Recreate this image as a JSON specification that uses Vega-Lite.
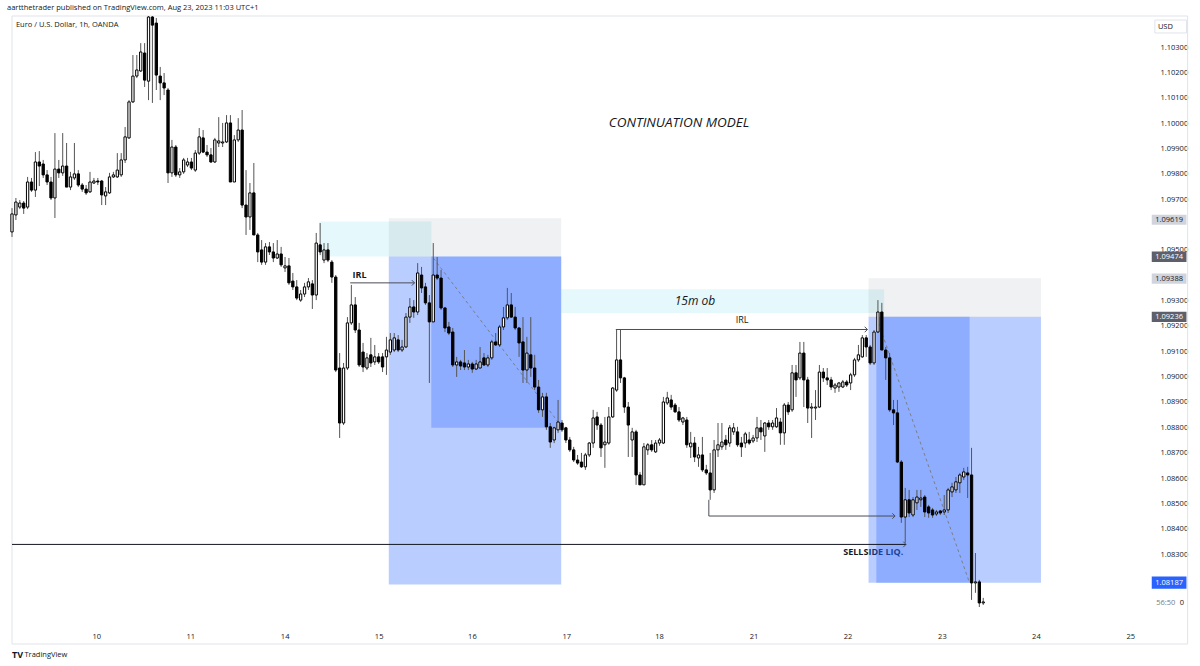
{
"$schema":"https://vega.github.io/schema/vega-lite/v6.json",
"width":1143,"height":609,
"autosize":{"type":"none"},
"padding":{"left":7,"top":16,"right":50,"bottom":41},
"background":"#ffffff",
"config":{"view":{"stroke":null},"font":"Open Sans"},
"resolve":{"scale":{"color":"independent"},"axis":{"x":"independent","y":"independent"}},
"title":{"text":"aartthetrader published on TradingView.com, Aug 23, 2023 11:03 UTC+1","anchor":"start","frame":"group","fontSize":7.5,"font":"Open Sans","fontWeight":"normal","color":"#131722","offset":4},
"datasets":{
"candles":[
{"t":0,"o":1.09571,"h":1.09665,"l":1.09551,"c":1.09642},
{"t":1,"o":1.09638,"h":1.09705,"l":1.09618,"c":1.09689},
{"t":2,"o":1.09669,"h":1.09697,"l":1.09661,"c":1.09685},
{"t":3,"o":1.09685,"h":1.09693,"l":1.09642,"c":1.09665},
{"t":4,"o":1.09669,"h":1.09788,"l":1.09661,"c":1.09768},
{"t":5,"o":1.09768,"h":1.09784,"l":1.09729,"c":1.09736},
{"t":6,"o":1.09736,"h":1.09886,"l":1.09709,"c":1.09847},
{"t":7,"o":1.09847,"h":1.0989,"l":1.09752,"c":1.09831},
{"t":8,"o":1.09839,"h":1.09855,"l":1.09784,"c":1.09796},
{"t":9,"o":1.09796,"h":1.09815,"l":1.09756,"c":1.09768},
{"t":10,"o":1.09768,"h":1.09788,"l":1.09697,"c":1.09705},
{"t":11,"o":1.09705,"h":1.09961,"l":1.09626,"c":1.09819},
{"t":12,"o":1.09819,"h":1.09855,"l":1.09784,"c":1.09804},
{"t":13,"o":1.09804,"h":1.09961,"l":1.09792,"c":1.09831},
{"t":14,"o":1.09831,"h":1.09922,"l":1.09748,"c":1.09748},
{"t":15,"o":1.09748,"h":1.09808,"l":1.09736,"c":1.09788},
{"t":16,"o":1.09784,"h":1.09922,"l":1.09776,"c":1.098},
{"t":17,"o":1.098,"h":1.09815,"l":1.09748,"c":1.09756},
{"t":18,"o":1.09756,"h":1.09764,"l":1.09729,"c":1.0974},
{"t":19,"o":1.0974,"h":1.09756,"l":1.09717,"c":1.09725},
{"t":20,"o":1.09729,"h":1.09808,"l":1.09725,"c":1.09768},
{"t":21,"o":1.09764,"h":1.09784,"l":1.0976,"c":1.09772},
{"t":22,"o":1.09772,"h":1.09784,"l":1.09756,"c":1.09768},
{"t":23,"o":1.09772,"h":1.09776,"l":1.09677,"c":1.09717},
{"t":24,"o":1.09713,"h":1.09748,"l":1.09677,"c":1.09729},
{"t":25,"o":1.09725,"h":1.09804,"l":1.09721,"c":1.09788},
{"t":26,"o":1.09788,"h":1.09808,"l":1.09784,"c":1.09796},
{"t":27,"o":1.09788,"h":1.09882,"l":1.09784,"c":1.09815},
{"t":28,"o":1.09796,"h":1.09882,"l":1.09788,"c":1.09855},
{"t":29,"o":1.09855,"h":1.09985,"l":1.09843,"c":1.09946},
{"t":30,"o":1.09942,"h":1.10091,"l":1.09938,"c":1.10084},
{"t":31,"o":1.10084,"h":1.10269,"l":1.1008,"c":1.10186},
{"t":32,"o":1.10186,"h":1.10269,"l":1.10178,"c":1.1021},
{"t":33,"o":1.10206,"h":1.10316,"l":1.10202,"c":1.10281},
{"t":34,"o":1.10277,"h":1.10316,"l":1.10143,"c":1.1017},
{"t":35,"o":1.10166,"h":1.10427,"l":1.10091,"c":1.10419},
{"t":36,"o":1.10419,"h":1.10427,"l":1.1008,"c":1.10387},
{"t":37,"o":1.10395,"h":1.10415,"l":1.10131,"c":1.1019},
{"t":38,"o":1.10186,"h":1.10222,"l":1.10091,"c":1.10159},
{"t":39,"o":1.10159,"h":1.10198,"l":1.10111,"c":1.10139},
{"t":40,"o":1.10131,"h":1.10139,"l":1.09764,"c":1.09804},
{"t":41,"o":1.09804,"h":1.09934,"l":1.09788,"c":1.09906},
{"t":42,"o":1.09906,"h":1.09914,"l":1.09788,"c":1.09796},
{"t":43,"o":1.09796,"h":1.09823,"l":1.09784,"c":1.09808},
{"t":44,"o":1.09808,"h":1.09863,"l":1.098,"c":1.09855},
{"t":45,"o":1.09835,"h":1.09863,"l":1.09827,"c":1.09847},
{"t":46,"o":1.09847,"h":1.09863,"l":1.09815,"c":1.09823},
{"t":47,"o":1.09815,"h":1.09894,"l":1.09808,"c":1.09882},
{"t":48,"o":1.09882,"h":1.09981,"l":1.09875,"c":1.09946},
{"t":49,"o":1.09942,"h":1.09973,"l":1.09882,"c":1.09886},
{"t":50,"o":1.09886,"h":1.09914,"l":1.09867,"c":1.09875},
{"t":51,"o":1.09875,"h":1.09902,"l":1.09843,"c":1.09847},
{"t":52,"o":1.09847,"h":1.09942,"l":1.09843,"c":1.09934},
{"t":53,"o":1.09922,"h":1.10024,"l":1.09906,"c":1.0993},
{"t":54,"o":1.09922,"h":1.10001,"l":1.09906,"c":1.09926},
{"t":55,"o":1.09926,"h":1.10032,"l":1.09922,"c":1.10001},
{"t":56,"o":1.10001,"h":1.10032,"l":1.09768,"c":1.09768},
{"t":57,"o":1.09768,"h":1.09953,"l":1.09768,"c":1.09934},
{"t":58,"o":1.09934,"h":1.1002,"l":1.09926,"c":1.09973},
{"t":59,"o":1.09973,"h":1.10052,"l":1.09665,"c":1.09677},
{"t":60,"o":1.09677,"h":1.09815,"l":1.09559,"c":1.0963},
{"t":61,"o":1.0963,"h":1.09764,"l":1.09579,"c":1.09725},
{"t":62,"o":1.09725,"h":1.09843,"l":1.09559,"c":1.09559},
{"t":63,"o":1.09559,"h":1.09567,"l":1.09452,"c":1.09492},
{"t":64,"o":1.095,"h":1.09539,"l":1.09441,"c":1.09452},
{"t":65,"o":1.09452,"h":1.09527,"l":1.09441,"c":1.09512},
{"t":66,"o":1.09512,"h":1.09531,"l":1.0948,"c":1.09492},
{"t":67,"o":1.09492,"h":1.09527,"l":1.09452,"c":1.09468},
{"t":68,"o":1.09468,"h":1.09539,"l":1.09464,"c":1.09484},
{"t":69,"o":1.09484,"h":1.09512,"l":1.09433,"c":1.09441},
{"t":70,"o":1.09429,"h":1.09472,"l":1.09413,"c":1.09437},
{"t":71,"o":1.09437,"h":1.09468,"l":1.09362,"c":1.0937},
{"t":72,"o":1.09377,"h":1.09409,"l":1.09342,"c":1.09354},
{"t":73,"o":1.09354,"h":1.09381,"l":1.09302,"c":1.0931},
{"t":74,"o":1.09302,"h":1.09342,"l":1.09295,"c":1.09326},
{"t":75,"o":1.09326,"h":1.0937,"l":1.09314,"c":1.09354},
{"t":76,"o":1.09354,"h":1.09389,"l":1.09342,"c":1.09374},
{"t":77,"o":1.09366,"h":1.09381,"l":1.09267,"c":1.09322},
{"t":78,"o":1.09322,"h":1.09567,"l":1.09302,"c":1.09527},
{"t":79,"o":1.0952,"h":1.09606,"l":1.0948,"c":1.09492},
{"t":80,"o":1.0946,"h":1.09527,"l":1.09448,"c":1.095},
{"t":81,"o":1.095,"h":1.09527,"l":1.09452,"c":1.0946},
{"t":82,"o":1.09452,"h":1.0946,"l":1.0937,"c":1.09393},
{"t":83,"o":1.09393,"h":1.09401,"l":1.09018,"c":1.09026},
{"t":84,"o":1.09034,"h":1.09093,"l":1.08758,"c":1.08817},
{"t":85,"o":1.08817,"h":1.09054,"l":1.08809,"c":1.09034},
{"t":86,"o":1.09034,"h":1.09235,"l":1.09026,"c":1.09212},
{"t":87,"o":1.09212,"h":1.09362,"l":1.09204,"c":1.09283},
{"t":88,"o":1.09283,"h":1.09314,"l":1.09172,"c":1.09184},
{"t":89,"o":1.09184,"h":1.09212,"l":1.09038,"c":1.09046},
{"t":90,"o":1.09097,"h":1.09133,"l":1.09018,"c":1.09038},
{"t":91,"o":1.09034,"h":1.09093,"l":1.09026,"c":1.09074},
{"t":92,"o":1.09086,"h":1.09153,"l":1.09038,"c":1.09054},
{"t":93,"o":1.09058,"h":1.09125,"l":1.09046,"c":1.09078},
{"t":94,"o":1.09078,"h":1.09093,"l":1.0905,"c":1.09058},
{"t":95,"o":1.09078,"h":1.09093,"l":1.09018,"c":1.09038},
{"t":96,"o":1.09078,"h":1.09157,"l":1.09007,"c":1.09105},
{"t":97,"o":1.09097,"h":1.09172,"l":1.09086,"c":1.09145},
{"t":98,"o":1.09105,"h":1.09172,"l":1.09097,"c":1.09153},
{"t":99,"o":1.09145,"h":1.09164,"l":1.09097,"c":1.09105},
{"t":100,"o":1.09105,"h":1.09145,"l":1.09097,"c":1.09117},
{"t":101,"o":1.09117,"h":1.09251,"l":1.09113,"c":1.09235},
{"t":102,"o":1.09235,"h":1.0931,"l":1.09212,"c":1.09275},
{"t":103,"o":1.09275,"h":1.09302,"l":1.09232,"c":1.09255},
{"t":104,"o":1.09255,"h":1.09448,"l":1.09243,"c":1.09409},
{"t":105,"o":1.09401,"h":1.09433,"l":1.0933,"c":1.0935},
{"t":106,"o":1.09354,"h":1.0937,"l":1.09283,"c":1.09291},
{"t":107,"o":1.09291,"h":1.09322,"l":1.08975,"c":1.09216},
{"t":108,"o":1.09216,"h":1.09527,"l":1.09216,"c":1.09401},
{"t":109,"o":1.09401,"h":1.09472,"l":1.09381,"c":1.09389},
{"t":110,"o":1.09389,"h":1.09421,"l":1.09263,"c":1.09271},
{"t":111,"o":1.09271,"h":1.09275,"l":1.09176,"c":1.09192},
{"t":112,"o":1.09196,"h":1.09216,"l":1.09164,"c":1.09172},
{"t":113,"o":1.09176,"h":1.09192,"l":1.09038,"c":1.09046},
{"t":114,"o":1.09046,"h":1.09078,"l":1.08999,"c":1.09058},
{"t":115,"o":1.09058,"h":1.09066,"l":1.09026,"c":1.09042},
{"t":116,"o":1.09054,"h":1.09105,"l":1.09026,"c":1.09038},
{"t":117,"o":1.09038,"h":1.09066,"l":1.09026,"c":1.0905},
{"t":118,"o":1.0905,"h":1.09058,"l":1.09015,"c":1.0903},
{"t":119,"o":1.0903,"h":1.09066,"l":1.09026,"c":1.0905},
{"t":120,"o":1.09034,"h":1.09117,"l":1.09034,"c":1.09058},
{"t":121,"o":1.09074,"h":1.09093,"l":1.09042,"c":1.09046},
{"t":122,"o":1.09046,"h":1.09086,"l":1.09038,"c":1.09074},
{"t":123,"o":1.09074,"h":1.09145,"l":1.09066,"c":1.09137},
{"t":124,"o":1.09137,"h":1.09172,"l":1.09121,"c":1.09125},
{"t":125,"o":1.09125,"h":1.09204,"l":1.09117,"c":1.09196},
{"t":126,"o":1.09196,"h":1.09275,"l":1.09184,"c":1.09232},
{"t":127,"o":1.09232,"h":1.0935,"l":1.09224,"c":1.09283},
{"t":128,"o":1.09283,"h":1.0933,"l":1.09232,"c":1.09235},
{"t":129,"o":1.09235,"h":1.09275,"l":1.09184,"c":1.09192},
{"t":130,"o":1.09192,"h":1.09196,"l":1.09078,"c":1.09133},
{"t":131,"o":1.09137,"h":1.09235,"l":1.08975,"c":1.09026},
{"t":132,"o":1.09026,"h":1.09157,"l":1.08975,"c":1.09093},
{"t":133,"o":1.09086,"h":1.09235,"l":1.08999,"c":1.09034},
{"t":134,"o":1.09034,"h":1.09086,"l":1.08947,"c":1.08959},
{"t":135,"o":1.08959,"h":1.08987,"l":1.08857,"c":1.08869},
{"t":136,"o":1.08869,"h":1.08936,"l":1.08841,"c":1.0892},
{"t":137,"o":1.0892,"h":1.08936,"l":1.0879,"c":1.08802},
{"t":138,"o":1.08802,"h":1.08817,"l":1.08719,"c":1.08742},
{"t":139,"o":1.0875,"h":1.08802,"l":1.08738,"c":1.08798},
{"t":140,"o":1.0879,"h":1.08908,"l":1.08778,"c":1.08821},
{"t":141,"o":1.08817,"h":1.08829,"l":1.08782,"c":1.0879},
{"t":142,"o":1.08798,"h":1.08802,"l":1.08738,"c":1.0875},
{"t":143,"o":1.0875,"h":1.08762,"l":1.08703,"c":1.08711},
{"t":144,"o":1.08711,"h":1.08723,"l":1.08663,"c":1.08671},
{"t":145,"o":1.08671,"h":1.08691,"l":1.08652,"c":1.08659},
{"t":146,"o":1.08663,"h":1.08699,"l":1.0864,"c":1.08644},
{"t":147,"o":1.08644,"h":1.08699,"l":1.08632,"c":1.08691},
{"t":148,"o":1.08691,"h":1.08742,"l":1.08683,"c":1.08738},
{"t":149,"o":1.08738,"h":1.08869,"l":1.08719,"c":1.08837},
{"t":150,"o":1.08841,"h":1.08861,"l":1.0879,"c":1.08809},
{"t":151,"o":1.08809,"h":1.08817,"l":1.08683,"c":1.08719},
{"t":152,"o":1.08731,"h":1.08841,"l":1.0864,"c":1.08742},
{"t":153,"o":1.08738,"h":1.0888,"l":1.08731,"c":1.08841},
{"t":154,"o":1.08841,"h":1.08959,"l":1.08837,"c":1.08955},
{"t":155,"o":1.08947,"h":1.09184,"l":1.0894,"c":1.09066},
{"t":156,"o":1.09066,"h":1.09184,"l":1.08975,"c":1.08995},
{"t":157,"o":1.08995,"h":1.08999,"l":1.08857,"c":1.0888},
{"t":158,"o":1.0888,"h":1.089,"l":1.08683,"c":1.08809},
{"t":159,"o":1.0875,"h":1.08798,"l":1.08683,"c":1.08782},
{"t":160,"o":1.08782,"h":1.0879,"l":1.08573,"c":1.08612},
{"t":161,"o":1.08612,"h":1.08624,"l":1.08573,"c":1.08573},
{"t":162,"o":1.08573,"h":1.08738,"l":1.08573,"c":1.08723},
{"t":163,"o":1.08711,"h":1.08738,"l":1.08691,"c":1.08731},
{"t":164,"o":1.08731,"h":1.0875,"l":1.08703,"c":1.08711},
{"t":165,"o":1.08703,"h":1.0875,"l":1.08699,"c":1.08738},
{"t":166,"o":1.08738,"h":1.08758,"l":1.08727,"c":1.0875},
{"t":167,"o":1.08738,"h":1.0892,"l":1.08734,"c":1.089},
{"t":168,"o":1.08896,"h":1.0894,"l":1.08888,"c":1.08916},
{"t":169,"o":1.08908,"h":1.08928,"l":1.08869,"c":1.0888},
{"t":170,"o":1.08888,"h":1.08896,"l":1.08857,"c":1.08861},
{"t":171,"o":1.08861,"h":1.0888,"l":1.08821,"c":1.08829},
{"t":172,"o":1.08821,"h":1.08841,"l":1.08809,"c":1.08837},
{"t":173,"o":1.08829,"h":1.08841,"l":1.08719,"c":1.08731},
{"t":174,"o":1.08723,"h":1.08782,"l":1.08679,"c":1.08738},
{"t":175,"o":1.08738,"h":1.08762,"l":1.08663,"c":1.08683},
{"t":176,"o":1.08679,"h":1.08723,"l":1.08644,"c":1.08691},
{"t":177,"o":1.08691,"h":1.08762,"l":1.08624,"c":1.08632},
{"t":178,"o":1.08632,"h":1.08652,"l":1.08612,"c":1.0862},
{"t":179,"o":1.0862,"h":1.08699,"l":1.08514,"c":1.08553},
{"t":180,"o":1.08553,"h":1.0875,"l":1.08541,"c":1.08711},
{"t":181,"o":1.08711,"h":1.08817,"l":1.08683,"c":1.08731},
{"t":182,"o":1.08723,"h":1.08817,"l":1.08711,"c":1.08742},
{"t":183,"o":1.0875,"h":1.0877,"l":1.08711,"c":1.08731},
{"t":184,"o":1.08738,"h":1.08809,"l":1.08723,"c":1.08798},
{"t":185,"o":1.08782,"h":1.08817,"l":1.0877,"c":1.08798},
{"t":186,"o":1.08782,"h":1.08802,"l":1.08723,"c":1.08731},
{"t":187,"o":1.08738,"h":1.08762,"l":1.08683,"c":1.08723},
{"t":188,"o":1.08738,"h":1.08782,"l":1.08719,"c":1.08774},
{"t":189,"o":1.0875,"h":1.08782,"l":1.08731,"c":1.08738},
{"t":190,"o":1.08746,"h":1.0877,"l":1.08738,"c":1.08758},
{"t":191,"o":1.08758,"h":1.08841,"l":1.08742,"c":1.08798},
{"t":192,"o":1.08798,"h":1.08829,"l":1.0875,"c":1.08782},
{"t":193,"o":1.08766,"h":1.08821,"l":1.08703,"c":1.08817},
{"t":194,"o":1.08817,"h":1.08829,"l":1.0879,"c":1.08802},
{"t":195,"o":1.08802,"h":1.08829,"l":1.0879,"c":1.08817},
{"t":196,"o":1.08802,"h":1.08876,"l":1.08798,"c":1.08837},
{"t":197,"o":1.08821,"h":1.08837,"l":1.08731,"c":1.08778},
{"t":198,"o":1.08778,"h":1.08896,"l":1.08731,"c":1.08888},
{"t":199,"o":1.08888,"h":1.089,"l":1.08849,"c":1.08861},
{"t":200,"o":1.08869,"h":1.09046,"l":1.08861,"c":1.09015},
{"t":201,"o":1.09015,"h":1.09046,"l":1.0892,"c":1.08987},
{"t":202,"o":1.08995,"h":1.09137,"l":1.08987,"c":1.09093},
{"t":203,"o":1.09093,"h":1.09137,"l":1.0888,"c":1.08987},
{"t":204,"o":1.08987,"h":1.08999,"l":1.08817,"c":1.08876},
{"t":205,"o":1.08876,"h":1.08896,"l":1.08758,"c":1.0888},
{"t":206,"o":1.08876,"h":1.08947,"l":1.08829,"c":1.0888},
{"t":207,"o":1.0888,"h":1.09046,"l":1.08876,"c":1.09018},
{"t":208,"o":1.09018,"h":1.09034,"l":1.08979,"c":1.08995},
{"t":209,"o":1.08995,"h":1.09034,"l":1.08967,"c":1.08987},
{"t":210,"o":1.08987,"h":1.08999,"l":1.08947,"c":1.08959},
{"t":211,"o":1.08955,"h":1.08975,"l":1.08936,"c":1.08967},
{"t":212,"o":1.08959,"h":1.08979,"l":1.0894,"c":1.08975},
{"t":213,"o":1.08959,"h":1.08987,"l":1.08955,"c":1.08979},
{"t":214,"o":1.08979,"h":1.08987,"l":1.08959,"c":1.08967},
{"t":215,"o":1.08975,"h":1.09015,"l":1.08947,"c":1.09007},
{"t":216,"o":1.09007,"h":1.09074,"l":1.08999,"c":1.09066},
{"t":217,"o":1.09066,"h":1.09125,"l":1.09058,"c":1.09086},
{"t":218,"o":1.09078,"h":1.09164,"l":1.09074,"c":1.09153},
{"t":219,"o":1.09153,"h":1.09164,"l":1.09078,"c":1.09117},
{"t":220,"o":1.09117,"h":1.09125,"l":1.09046,"c":1.09054},
{"t":221,"o":1.09054,"h":1.09184,"l":1.09046,"c":1.09176},
{"t":222,"o":1.09176,"h":1.09302,"l":1.09172,"c":1.09255},
{"t":223,"o":1.09255,"h":1.09291,"l":1.09105,"c":1.09105},
{"t":224,"o":1.09105,"h":1.09117,"l":1.08987,"c":1.09074},
{"t":225,"o":1.09074,"h":1.09093,"l":1.08861,"c":1.08869},
{"t":226,"o":1.08869,"h":1.08908,"l":1.08809,"c":1.08857},
{"t":227,"o":1.08857,"h":1.08908,"l":1.08659,"c":1.08663},
{"t":228,"o":1.08663,"h":1.08671,"l":1.08423,"c":1.08446},
{"t":229,"o":1.08446,"h":1.08561,"l":1.08344,"c":1.08514},
{"t":230,"o":1.08514,"h":1.08553,"l":1.08446,"c":1.08462},
{"t":231,"o":1.08454,"h":1.08525,"l":1.08446,"c":1.08514},
{"t":232,"o":1.08502,"h":1.08553,"l":1.08474,"c":1.08525},
{"t":233,"o":1.08514,"h":1.08553,"l":1.08486,"c":1.08521},
{"t":234,"o":1.08525,"h":1.08533,"l":1.08446,"c":1.08466},
{"t":235,"o":1.08486,"h":1.08494,"l":1.08443,"c":1.08462},
{"t":236,"o":1.08474,"h":1.08482,"l":1.08443,"c":1.08454},
{"t":237,"o":1.08458,"h":1.08474,"l":1.0845,"c":1.08466},
{"t":238,"o":1.0847,"h":1.08474,"l":1.08454,"c":1.08462},
{"t":239,"o":1.08466,"h":1.08533,"l":1.08454,"c":1.08474},
{"t":240,"o":1.08474,"h":1.08561,"l":1.08462,"c":1.08553},
{"t":241,"o":1.08545,"h":1.08581,"l":1.08525,"c":1.08565},
{"t":242,"o":1.08553,"h":1.08604,"l":1.08541,"c":1.08585},
{"t":243,"o":1.08581,"h":1.0862,"l":1.08541,"c":1.08612},
{"t":244,"o":1.08604,"h":1.0864,"l":1.08592,"c":1.08624},
{"t":245,"o":1.0862,"h":1.08644,"l":1.08521,"c":1.08612},
{"t":246,"o":1.08612,"h":1.08719,"l":1.08119,"c":1.08186},
{"t":247,"o":1.08186,"h":1.08304,"l":1.08147,"c":1.0819},
{"t":248,"o":1.0819,"h":1.08198,"l":1.08091,"c":1.08107},
{"t":249,"o":1.08107,"h":1.08127,"l":1.08099,"c":1.08111}
],
"zones":[
{"x1":96.6,"x2":140.8,"y1":1.09474,"y2":1.09625,"kind":"stop"},
{"x1":78.8,"x2":107.5,"y1":1.09474,"y2":1.09612,"kind":"fvg"},
{"x1":96.6,"x2":140.8,"y1":1.0818,"y2":1.09474,"kind":"target"},
{"x1":107.5,"x2":140.8,"y1":1.08798,"y2":1.09474,"kind":"reached"},
{"x1":219.6,"x2":263.8,"y1":1.09236,"y2":1.09388,"kind":"stop"},
{"x1":140.8,"x2":223.6,"y1":1.09251,"y2":1.09345,"kind":"fvg"},
{"x1":219.6,"x2":263.8,"y1":1.08187,"y2":1.09236,"kind":"target"},
{"x1":221.6,"x2":245.5,"y1":1.08187,"y2":1.09236,"kind":"reached"}
],
"tags":[
{"x1":292.2,"x2":301.1,"xm":296.65,"y1":1.09599,"y2":1.09639,"yc":1.09619,"label":"1.09619","kind":"light"},
{"x1":292.2,"x2":301.1,"xm":296.65,"y1":1.09452,"y2":1.09494,"yc":1.09473,"label":"1.09474","kind":"dark"},
{"x1":292.2,"x2":301.1,"xm":296.65,"y1":1.09367,"y2":1.09407,"yc":1.09387,"label":"1.09388","kind":"light"},
{"x1":292.2,"x2":301.1,"xm":296.65,"y1":1.09216,"y2":1.09256,"yc":1.09236,"label":"1.09236","kind":"dark"},
{"x1":292.2,"x2":301.1,"xm":296.65,"y1":1.08163,"y2":1.08211,"yc":1.08187,"label":"1.08187","kind":"blue"}
]
},
"layer":[
{"data":{"values":[{"x1":0,"x2":301.4,"y1":1.07945,"y2":1.10423}]},
 "mark":{"type":"rect","fillOpacity":0,"stroke":"#e0e3eb","strokeWidth":1,"clip":false},
 "encoding":{
  "x":{"field":"x1","type":"quantitative","axis":null,"scale":{"domain":[0,290.47],"nice":false,"zero":false}},
  "x2":{"field":"x2"},
  "y":{"field":"y1","type":"quantitative","axis":null,"scale":{"domain":[1.0802,1.10423],"nice":false,"zero":false}},
  "y2":{"field":"y2"}}},
{"data":{"values":[{"x":220.8,"y":1.0831,"label":"SELLSIDE LIQ."}]},
 "mark":{"type":"text","font":"Open Sans","fontSize":9,"fontWeight":"bold","color":"#131722","align":"center","baseline":"middle"},
 "encoding":{
  "x":{"field":"x","type":"quantitative","axis":null,"scale":{"domain":[0,290.47],"nice":false,"zero":false}},
  "y":{"field":"y","type":"quantitative","axis":null,"scale":{"domain":[1.0802,1.10423],"nice":false,"zero":false}},
  "text":{"field":"label"}}},
{"data":{"name":"zones"},
 "mark":{"type":"rect","clip":true},
 "encoding":{
  "x":{"field":"x1","type":"quantitative","axis":null,"scale":{"domain":[0,290.47],"nice":false,"zero":false}},
  "x2":{"field":"x2"},
  "y":{"field":"y1","type":"quantitative","axis":null,"scale":{"domain":[1.0802,1.10423],"nice":false,"zero":false}},
  "y2":{"field":"y2"},
  "color":{"field":"kind","type":"nominal","legend":null,"scale":{"domain":["stop","fvg","target","reached"],"range":["rgba(120,123,134,0.11)","rgba(0,188,212,0.1)","rgba(41,98,255,0.32)","rgba(41,98,255,0.3)"]}}}},
{"data":{"values":[{"x1":108,"y1":1.09468,"x2":140.8,"y2":1.08805},{"x1":221.6,"y1":1.09235,"x2":245.5,"y2":1.08186}]},
 "mark":{"type":"rule","color":"#7a7f8c","strokeWidth":1,"strokeDash":[3,3]},
 "encoding":{
  "x":{"field":"x1","type":"quantitative","axis":null,"scale":{"domain":[0,290.47],"nice":false,"zero":false}},
  "y":{"field":"y1","type":"quantitative","axis":null,"scale":{"domain":[1.0802,1.10423],"nice":false,"zero":false}},
  "x2":{"field":"x2"},"y2":{"field":"y2"}}},
{"data":{"values":[{"x1":86.7,"y1":1.0937,"x2":103.2,"y2":1.0937},{"x1":154.8,"y1":1.09186,"x2":219.3,"y2":1.09186},{"x1":178.65,"y1":1.08514,"x2":178.65,"y2":1.0845},{"x1":178.65,"y1":1.0845,"x2":226.4,"y2":1.0845}]},
 "mark":{"type":"rule","color":"#4a4d57","strokeWidth":1},
 "encoding":{
  "x":{"field":"x1","type":"quantitative","axis":null,"scale":{"domain":[0,290.47],"nice":false,"zero":false}},
  "y":{"field":"y1","type":"quantitative","axis":null,"scale":{"domain":[1.0802,1.10423],"nice":false,"zero":false}},
  "x2":{"field":"x2"},"y2":{"field":"y2"}}},
{"data":{"values":[{"x1":0,"y1":1.08338,"x2":229.2,"y2":1.08338}]},
 "mark":{"type":"rule","color":"#131722","strokeWidth":1,"clip":true},
 "encoding":{
  "x":{"field":"x1","type":"quantitative","axis":null,"scale":{"domain":[0,290.47],"nice":false,"zero":false}},
  "y":{"field":"y1","type":"quantitative","axis":null,"scale":{"domain":[1.0802,1.10423],"nice":false,"zero":false}},
  "x2":{"field":"x2"},"y2":{"field":"y2"}}},
{"data":{"values":[{"x":103.2,"y":1.0937},{"x":219.3,"y":1.09186},{"x":226.4,"y":1.0845},{"x":229.2,"y":1.08338}]},
 "mark":{"type":"point","shape":"M-1,-1L0,0L-1,1","filled":false,"stroke":"#4a4d57","strokeWidth":1,"size":30,"opacity":1},
 "encoding":{
  "x":{"field":"x","type":"quantitative","axis":null,"scale":{"domain":[0,290.47],"nice":false,"zero":false}},
  "y":{"field":"y","type":"quantitative","axis":null,"scale":{"domain":[1.0802,1.10423],"nice":false,"zero":false}}}},
{"data":{"name":"candles"},
 "mark":{"type":"rule","color":"#555555","strokeWidth":1,"clip":true},
 "encoding":{
  "x":{"field":"t","type":"quantitative","scale":{"domain":[0,290.47],"nice":false,"zero":false},
   "axis":{"orient":"bottom","title":null,"values":[21.6,45.7,69.9,94,117.9,142.1,165.9,190.1,214.2,238.4,262.5,286.7],"labelExpr":"['10','11','14','15','16','17','18','21','22','23','24','25'][indexof([22,46,70,94,118,142,166,190,214,238,263,287], round(datum.value))]","ticks":false,"domain":false,"grid":false,"labelFontSize":7.5,"labelColor":"#131722","labelPadding":7,"labelFont":"Open Sans","labelOverlap":false}},
  "y":{"field":"l","type":"quantitative","scale":{"domain":[1.0802,1.10423],"nice":false,"zero":false},
   "axis":{"orient":"right","title":null,"values":[1.083,1.084,1.085,1.086,1.087,1.088,1.089,1.09,1.091,1.092,1.093,1.095,1.097,1.098,1.099,1.1,1.101,1.102,1.103],"format":".5f","ticks":false,"domain":false,"grid":false,"labelFontSize":7.5,"labelColor":"#131722","labelPadding":10,"labelAlign":"left","labelFont":"Open Sans","labelOverlap":false,"labelBound":false,"zindex":0}},
  "y2":{"field":"h"}}},
{"data":{"name":"candles"},
 "mark":{"type":"bar","width":2.3,"stroke":"#000000","strokeWidth":1,"clip":true},
 "encoding":{
  "x":{"field":"t","type":"quantitative","axis":null,"scale":{"domain":[0,290.47],"nice":false,"zero":false}},
  "y":{"field":"o","type":"quantitative","axis":null,"scale":{"domain":[1.0802,1.10423],"nice":false,"zero":false}},
  "y2":{"field":"c"},
  "fill":{"condition":{"test":"datum.c >= datum.o","value":"#ffffff"},"value":"#000000"}}},
{"data":{"values":[{"x":171,"y":1.1,"label":"CONTINUATION MODEL"}]},
 "mark":{"type":"text","font":"Open Sans","fontSize":13.5,"fontStyle":"italic","color":"#131722","align":"center","baseline":"middle"},
 "encoding":{
  "x":{"field":"x","type":"quantitative","axis":null,"scale":{"domain":[0,290.47],"nice":false,"zero":false}},
  "y":{"field":"y","type":"quantitative","axis":null,"scale":{"domain":[1.0802,1.10423],"nice":false,"zero":false}},
  "text":{"field":"label"}}},
{"data":{"values":[{"x":175.1,"y":1.09299,"label":"15m ob"}]},
 "mark":{"type":"text","font":"Open Sans","fontSize":12,"fontStyle":"italic","color":"#131722","align":"center","baseline":"middle"},
 "encoding":{
  "x":{"field":"x","type":"quantitative","axis":null,"scale":{"domain":[0,290.47],"nice":false,"zero":false}},
  "y":{"field":"y","type":"quantitative","axis":null,"scale":{"domain":[1.0802,1.10423],"nice":false,"zero":false}},
  "text":{"field":"label"}}},
{"data":{"values":[{"x":89.1,"y":1.09401,"label":"IRL"}]},
 "mark":{"type":"text","font":"Open Sans","fontSize":9,"fontWeight":"bold","color":"#131722","align":"center","baseline":"middle"},
 "encoding":{
  "x":{"field":"x","type":"quantitative","axis":null,"scale":{"domain":[0,290.47],"nice":false,"zero":false}},
  "y":{"field":"y","type":"quantitative","axis":null,"scale":{"domain":[1.0802,1.10423],"nice":false,"zero":false}},
  "text":{"field":"label"}}},
{"data":{"values":[{"x":187.2,"y":1.09222,"label":"IRL"}]},
 "mark":{"type":"text","font":"Open Sans","fontSize":9,"color":"#131722","align":"center","baseline":"middle"},
 "encoding":{
  "x":{"field":"x","type":"quantitative","axis":null,"scale":{"domain":[0,290.47],"nice":false,"zero":false}},
  "y":{"field":"y","type":"quantitative","axis":null,"scale":{"domain":[1.0802,1.10423],"nice":false,"zero":false}},
  "text":{"field":"label"}}},
{"data":{"values":[{"x":1.0,"y":1.10387,"label":"Euro / U.S. Dollar, 1h, OANDA"}]},
 "mark":{"type":"text","font":"Open Sans","fontSize":7.5,"color":"#131722","align":"left","baseline":"middle"},
 "encoding":{
  "x":{"field":"x","type":"quantitative","axis":null,"scale":{"domain":[0,290.47],"nice":false,"zero":false}},
  "y":{"field":"y","type":"quantitative","axis":null,"scale":{"domain":[1.0802,1.10423],"nice":false,"zero":false}},
  "text":{"field":"label"}}},
{"data":{"name":"tags"},
 "mark":{"type":"rect","clip":false},
 "encoding":{
  "x":{"field":"x1","type":"quantitative","axis":null,"scale":{"domain":[0,290.47],"nice":false,"zero":false}},
  "x2":{"field":"x2"},
  "y":{"field":"y1","type":"quantitative","axis":null,"scale":{"domain":[1.0802,1.10423],"nice":false,"zero":false}},
  "y2":{"field":"y2"},
  "color":{"field":"kind","type":"nominal","legend":null,"scale":{"domain":["light","dark","blue"],"range":["#d1d4dc","#5d606b","#2962ff"]}}}},
{"data":{"name":"tags"},
 "mark":{"type":"text","font":"Open Sans","fontSize":7.5,"align":"center","baseline":"middle","clip":false},
 "encoding":{
  "x":{"field":"xm","type":"quantitative","axis":null,"scale":{"domain":[0,290.47],"nice":false,"zero":false}},
  "y":{"field":"yc","type":"quantitative","axis":null,"scale":{"domain":[1.0802,1.10423],"nice":false,"zero":false}},
  "text":{"field":"label"},
  "color":{"field":"kind","type":"nominal","legend":null,"scale":{"domain":["light","dark","blue"],"range":["#131722","#ffffff","#ffffff"]}}}},
{"data":{"values":[{"x1":293,"x2":301.1,"y1":1.10356,"y2":1.10407}]},
 "mark":{"type":"rect","fill":"#ffffff","stroke":"#e0e3eb","strokeWidth":1,"clip":false},
 "encoding":{
  "x":{"field":"x1","type":"quantitative","axis":null,"scale":{"domain":[0,290.47],"nice":false,"zero":false}},
  "x2":{"field":"x2"},
  "y":{"field":"y1","type":"quantitative","axis":null,"scale":{"domain":[1.0802,1.10423],"nice":false,"zero":false}},
  "y2":{"field":"y2"}}},
{"data":{"values":[{"x":295.7,"y":1.10381,"label":"USD"},{"x":295.8,"y":1.08105,"label":"56:50"},{"x":299.9,"y":1.08105,"label":"0"}]},
 "mark":{"type":"text","font":"Open Sans","fontSize":7.5,"align":"center","baseline":"middle","clip":false},
 "encoding":{
  "x":{"field":"x","type":"quantitative","axis":null,"scale":{"domain":[0,290.47],"nice":false,"zero":false}},
  "y":{"field":"y","type":"quantitative","axis":null,"scale":{"domain":[1.0802,1.10423],"nice":false,"zero":false}},
  "text":{"field":"label"},
  "color":{"field":"label","type":"nominal","legend":null,"scale":{"domain":["USD","56:50","0"],"range":["#131722","#787b86","#131722"]}}}},
{"data":{"values":[{"x":0,"y":1.07902,"label":"TV"}]},
 "mark":{"type":"text","font":"Open Sans","fontSize":9,"fontWeight":"bold","color":"#131722","align":"left","baseline":"middle","clip":false},
 "encoding":{
  "x":{"field":"x","type":"quantitative","axis":null,"scale":{"domain":[0,290.47],"nice":false,"zero":false}},
  "y":{"field":"y","type":"quantitative","axis":null,"scale":{"domain":[1.0802,1.10423],"nice":false,"zero":false}},
  "text":{"field":"label"}}},
{"data":{"values":[{"x":3.2,"y":1.07902,"label":"TradingView"}]},
 "mark":{"type":"text","font":"Open Sans","fontSize":7.5,"color":"#131722","align":"left","baseline":"middle","clip":false},
 "encoding":{
  "x":{"field":"x","type":"quantitative","axis":null,"scale":{"domain":[0,290.47],"nice":false,"zero":false}},
  "y":{"field":"y","type":"quantitative","axis":null,"scale":{"domain":[1.0802,1.10423],"nice":false,"zero":false}},
  "text":{"field":"label"}}}
]
}
